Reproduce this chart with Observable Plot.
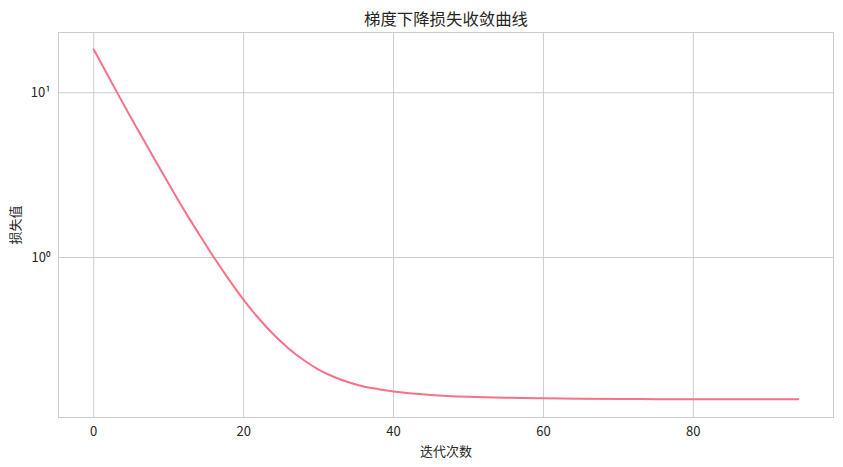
<!DOCTYPE html>
<html>
<head>
<meta charset="utf-8">
<script src="https://cdn.jsdelivr.net/npm/d3@7"></script>
<script src="https://cdn.jsdelivr.net/npm/@observablehq/plot@0.6"></script>
<style>
  html, body { margin: 0; padding: 0; background: #ffffff; }
  #chart { width: 843px; height: 467px; }
</style>
</head>
<body>
<div id="chart"></div>
<script>
// Data
const iterations = [0, 2, 4, 6, 8, 10, 12, 14, 16, 18, 20, 22, 24, 26, 28, 30, 32, 34, 36, 38, 40,
  45, 50, 55, 60, 65, 70, 75, 80, 85, 90, 94];
const lossValues = [18.31, 12.45, 8.47, 5.83, 4.03, 2.80, 1.96, 1.40, 1.007, 0.740, 0.554, 0.428, 0.341,
  0.281, 0.239, 0.209, 0.189, 0.175, 0.165, 0.159, 0.154,
  0.1467, 0.1429, 0.1409, 0.1398, 0.139, 0.1385, 0.1383, 0.138, 0.138, 0.138, 0.138];
const xTicks = [0, 20, 40, 60, 80];
const yTicks = [1, 10];
const yTickLabels = ["10⁰", "10¹"];
const titleText = "梯度下降损失收敛曲线";
const xLabel = "迭代次数";
const yLabel = "损失值";

const data = iterations.map((t, i) => ({t, loss: lossValues[i]}));

const chart = Plot.plot({
  width: 843,
  height: 467,
  marginTop: 32,
  marginLeft: 58,
  marginRight: 10,
  marginBottom: 50,
  style: {
    fontFamily: "'Noto Sans CJK SC', 'Noto Sans', sans-serif",
    fontSize: "13px",
    color: "#262626",
    background: "#ffffff"
  },
  x: {domain: [-4.7, 98.7]},
  y: {type: "log", domain: [0.107, 23.2]},
  marks: [
    Plot.gridX(xTicks, {stroke: "#cccccc", strokeOpacity: 1, strokeWidth: 1}),
    Plot.gridY(yTicks, {stroke: "#cccccc", strokeOpacity: 1, strokeWidth: 1}),
    Plot.frame({stroke: "#cccccc", strokeWidth: 1}),
    Plot.axisX(xTicks, {
      tickSize: 0, tickPadding: 9, fontSize: 13,
      label: xLabel, labelAnchor: "center", labelArrow: "none", labelOffset: 38
    }),
    Plot.axisY(yTicks, {
      tickSize: 0, tickPadding: 8, fontSize: 13,
      tickFormat: (d) => yTickLabels[yTicks.indexOf(d)],
      label: yLabel, labelAnchor: "center", labelArrow: "none", labelOffset: 48
    }),
    Plot.line(data, {x: "t", y: "loss", stroke: "#f77189", strokeWidth: 2, curve: "monotone-x"}),
    Plot.text([titleText], {
      frameAnchor: "top", dy: -13, fontSize: 16.4, fill: "#262626", lineAnchor: "middle"
    })
  ]
});
document.getElementById("chart").appendChild(chart);
</script>
</body>
</html>
